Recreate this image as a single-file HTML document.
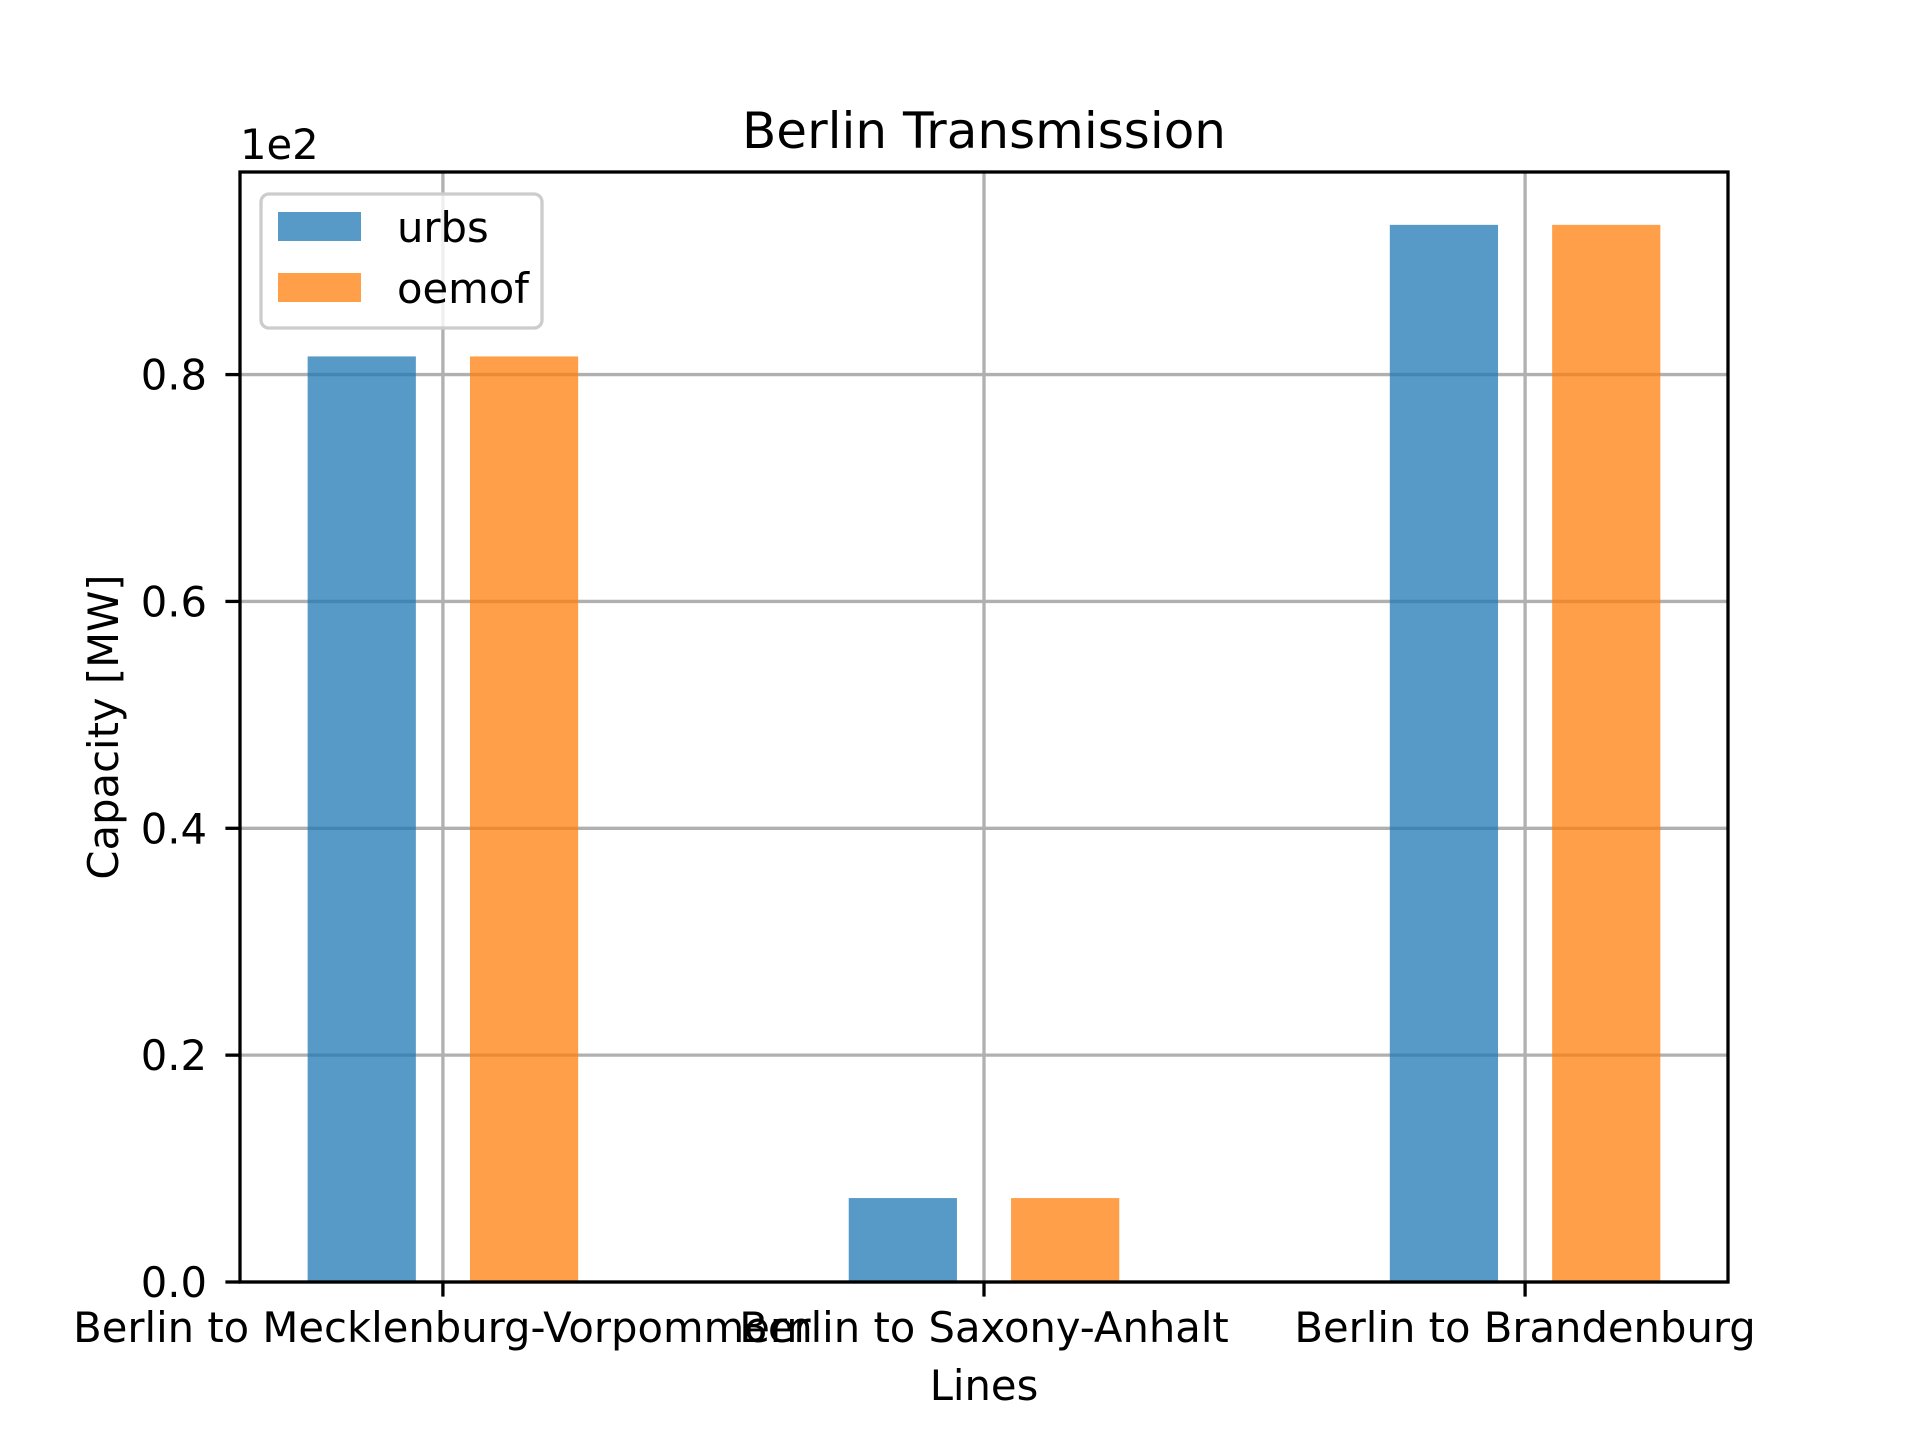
<!DOCTYPE html>
<html><head><meta charset="utf-8"><style>
html,body{margin:0;padding:0;background:#fff;}
svg{display:block;font-family:"DejaVu Sans","Liberation Sans",sans-serif;}
</style></head><body>
<svg id="chart" width="1920" height="1440" viewBox="0 0 1920 1440" xmlns="http://www.w3.org/2000/svg"></svg>
<script>
const categories = ["Berlin to Mecklenburg-Vorpommern", "Berlin to Saxony-Anhalt", "Berlin to Brandenburg"];
const urbsValues = [0.816, 0.074, 0.932];
const oemofValues = [0.816, 0.074, 0.932];
const yTicks = [0.0, 0.2, 0.4, 0.6, 0.8];
const yTickLabels = ["0.0", "0.2", "0.4", "0.6", "0.8"];

const L = 240, R = 1728, T = 172, B = 1282;
const xMin = -0.375, xMax = 2.375;
const yMax = Math.max(...urbsValues, ...oemofValues) * 1.05;
const xs = v => L + (v - xMin) / (xMax - xMin) * (R - L);
const ys = v => B - v / yMax * (B - T);
const svg = document.getElementById('chart');
const NS = 'http://www.w3.org/2000/svg';
function mk(tag, attrs, parent) {
  const e = document.createElementNS(NS, tag);
  for (const k in attrs) e.setAttribute(k, attrs[k]);
  (parent || svg).appendChild(e);
  return e;
}
categories.forEach((c, i) => {
  const g = mk('line', {x1: xs(i), x2: xs(i), y1: T, y2: B, stroke: '#b0b0b0', 'stroke-width': 3.3});
  
  
});
yTicks.forEach(v => {
  const g = mk('line', {x1: L, x2: R, y1: ys(v), y2: ys(v), stroke: '#b0b0b0', 'stroke-width': 3.3});
  
  
});
const w = 0.2;
categories.forEach((c, i) => {
  const b1 = mk('rect', {x: xs(i - 0.15 - w / 2), y: ys(urbsValues[i]), width: xs(w) - xs(0), height: B - ys(urbsValues[i]), fill: '#1f77b4', 'fill-opacity': 0.75});
  
  
  const b2 = mk('rect', {x: xs(i + 0.15 - w / 2), y: ys(oemofValues[i]), width: xs(w) - xs(0), height: B - ys(oemofValues[i]), fill: '#ff7f0e', 'fill-opacity': 0.75});
  
  
});
const fr = mk('rect', {x: L, y: T, width: R - L, height: B - T, fill: 'none', stroke: '#000', 'stroke-width': 3.3});


categories.forEach((c, i) => {
  mk('line', {x1: xs(i), x2: xs(i), y1: B, y2: B + 14.6, stroke: '#000', 'stroke-width': 3.3});
  const t = mk('text', {x: xs(i), y: 1342, 'text-anchor': 'middle', 'font-size': 41.7, fill: '#000'});
  t.textContent = c;
  
  
});
yTicks.forEach((v, i) => {
  mk('line', {x1: L - 14.6, x2: L, y1: ys(v), y2: ys(v), stroke: '#000', 'stroke-width': 3.3});
  const t = mk('text', {x: 207, y: ys(v) + 15, 'text-anchor': 'end', 'font-size': 41.7, fill: '#000'});
  t.textContent = yTickLabels[i];
  
  
});
</script>
<script>
(function(){
const svg = document.getElementById('chart');
svg.insertAdjacentHTML('beforeend', `
<text x="984" y="148" text-anchor="middle" font-size="50" fill="#000">Berlin Transmission</text>
<text x="240" y="159" font-size="41.7" fill="#000">1e2</text>
<text x="984" y="1400" text-anchor="middle" font-size="41.7" fill="#000">Lines</text>
<text transform="translate(118,727) rotate(-90)" text-anchor="middle" font-size="41.7" fill="#000">Capacity [MW]</text>
<g>
<rect x="261" y="194" width="281" height="134" rx="8" fill="#fff" fill-opacity="0.8" stroke="#cccccc" stroke-width="3.3"/>
<rect x="278" y="212" width="83" height="29" fill="#1f77b4" fill-opacity="0.75"/>
<text x="397" y="242" font-size="41.7" fill="#000">urbs</text>
<rect x="278" y="273" width="83" height="29" fill="#ff7f0e" fill-opacity="0.75"/>
<text x="397" y="303" font-size="41.7" fill="#000">oemof</text>
</g>`);
})();
</script>
</body></html>
